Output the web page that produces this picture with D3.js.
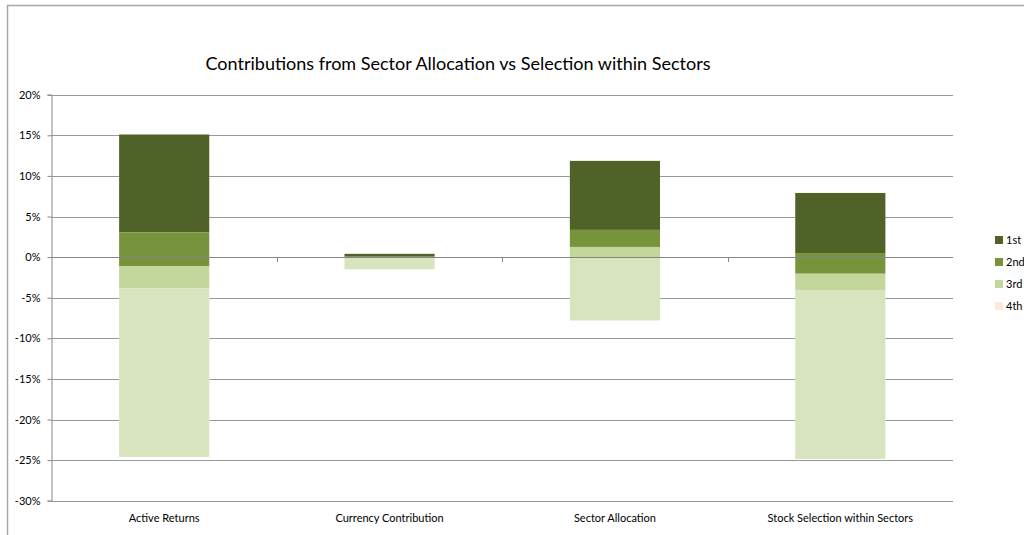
<!DOCTYPE html>
<html>
<head>
<meta charset="utf-8">
<script src="https://cdn.jsdelivr.net/npm/d3@7"></script>
<style>
  html, body { margin: 0; padding: 0; background: #fff; }
  svg { display: block; font-family: Lato, "Open Sans", sans-serif; }
</style>
</head>
<body>
<svg id="chart" width="1024" height="535"></svg>
<script>
// Categories along the x axis
const categories = ["Active Returns", "Currency Contribution", "Sector Allocation", "Stock Selection within Sectors"];

// Range boundaries per category (percent): top of 1st band down to bottom of 4th band
const bandTop    = [15.1, 0.4, 11.85, 7.9];
const cut12      = [3.05, 0.05, 3.35, 0.5];
const cut23      = [-1.1, 0.02, 1.25, -2.05];
const cut34      = [-3.85, 0.0, 0.0, -4.05];
const bandBottom = [-24.6, -1.5, -7.8, -24.85];

// Series and their colours
const seriesNames = ["1st", "2nd", "3rd", "4th"];
const seriesFill = ["#4f6228", "#77933c", "#c3d69b", "#d7e4bd"];
const legendFill = ["#4f6228", "#77933c", "#c3d69b", "#fde9d9"];

// Y-axis ticks
const yTicks = [20, 15, 10, 5, 0, -5, -10, -15, -20, -25, -30];

const title = "Contributions from Sector Allocation vs Selection within Sectors";

const svg = d3.select("#chart");
const W = 1024, H = 535;

// Outer chart area frame
svg.append("rect")
  .attr("x", 7.5).attr("y", 5.5)
  .attr("width", W + 10).attr("height", H + 10)
  .attr("fill", "none").attr("stroke", "#a6a6a6").attr("stroke-width", 1.5);

const plot = { left: 51.5, right: 953, top: 94.7, bottom: 500.7 };

const y = d3.scaleLinear().domain([-30, 20]).range([plot.bottom, plot.top]);
const x = d3.scaleBand().domain(categories).range([plot.left, plot.right]).paddingInner(0).paddingOuter(0);
const barW = x.bandwidth() * 0.4;

// Gridlines
svg.append("g").selectAll("line").data(yTicks).join("line")
  .attr("x1", plot.left).attr("x2", plot.right)
  .attr("y1", d => Math.round(y(d)) + 0.5).attr("y2", d => Math.round(y(d)) + 0.5)
  .attr("stroke", "#999999").attr("stroke-width", 1);

// Stack segments per category
const segments = [];
categories.forEach((c, i) => {
  const b = [bandTop[i], cut12[i], cut23[i], cut34[i], bandBottom[i]];
  seriesNames.forEach((s, k) => {
    segments.push({ cat: c, series: k, hi: b[k], lo: b[k + 1] });
  });
});

svg.append("g").selectAll("rect").data(segments).join("rect")
  .attr("x", d => x(d.cat) + (x.bandwidth() - barW) / 2)
  .attr("width", barW)
  .attr("y", d => y(d.hi))
  .attr("height", d => Math.max(0, y(d.lo) - y(d.hi)))
  .attr("fill", d => seriesFill[d.series]);

// Y axis
const yAxis = d3.axisLeft(y).tickValues(yTicks).tickSize(4).tickPadding(7)
  .tickFormat(d => d + "%");
const gy = svg.append("g").attr("transform", `translate(${plot.left},0)`).call(yAxis);
gy.select(".domain").attr("stroke", "#868686");
gy.selectAll(".tick line").attr("stroke", "#868686");
gy.selectAll(".tick text").attr("font-size", 11).attr("fill", "#000")
  .attr("font-family", "Lato, 'Open Sans', sans-serif");

// X axis line at zero with tick marks at category boundaries
const gx = svg.append("g");
gx.append("line")
  .attr("x1", plot.left).attr("x2", plot.right)
  .attr("y1", Math.round(y(0)) + 0.5).attr("y2", Math.round(y(0)) + 0.5)
  .attr("stroke", "#868686");
const boundaries = categories.map(c => x(c) + x.bandwidth()).slice(0, -1);
gx.selectAll("line.tk").data(boundaries).join("line").attr("class", "tk")
  .attr("x1", d => Math.round(d) + 0.5).attr("x2", d => Math.round(d) + 0.5)
  .attr("y1", Math.round(y(0))).attr("y2", Math.round(y(0)) + 5)
  .attr("stroke", "#868686");

// Category labels below the plot
svg.append("g").selectAll("text").data(categories).join("text")
  .attr("x", d => x(d) + x.bandwidth() / 2)
  .attr("y", 522)
  .attr("text-anchor", "middle")
  .attr("font-size", 11)
  .attr("fill", "#000")
  .text(d => d);

// Title
svg.append("text")
  .attr("x", 458).attr("y", 70)
  .attr("text-anchor", "middle")
  .attr("font-size", 18)
  .attr("fill", "#000")
  .text(title);

// Legend
const lg = svg.append("g").selectAll("g").data(seriesNames).join("g")
  .attr("transform", (d, i) => `translate(995, ${236 + i * 22})`);
lg.append("rect").attr("width", 8).attr("height", 8).attr("fill", (d, i) => legendFill[i]);
lg.append("text").attr("x", 11).attr("y", 8).attr("font-size", 11).attr("fill", "#000").text(d => d);
</script>
</body>
</html>
